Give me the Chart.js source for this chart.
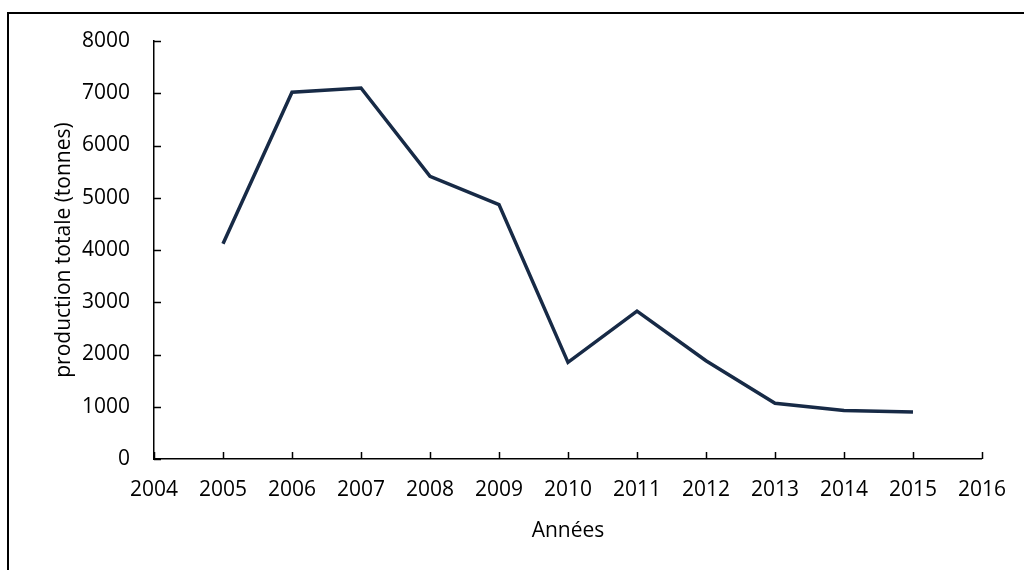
<!DOCTYPE html>
<html>
<head>
<meta charset="utf-8">
<script src="https://cdn.jsdelivr.net/npm/chart.js@4"></script>
<style>
  html,body{margin:0;padding:0;background:#fff;}
  #wrap{position:relative;width:1024px;height:570px;overflow:hidden;}
  #frame{position:absolute;left:7px;top:12px;width:1100px;height:600px;border-top:2px solid #000;border-left:2px solid #000;}
  canvas{position:absolute;left:0;top:0;}
</style>
</head>
<body>
<div id="wrap">
  <div id="frame"></div>
  <canvas id="c" width="1024" height="570"></canvas>
</div>
<script>
// Data
const years = [2005, 2006, 2007, 2008, 2009, 2010, 2011, 2012, 2013, 2014, 2015];
const production = [4120, 7020, 7100, 5410, 4870, 1850, 2830, 1880, 1065, 930, 900];
const xRange = [2004, 2016];
const yRange = [0, 8000];
const yStep = 1000;

const FONT = "'Open Sans', sans-serif";

// inward tick marks, like the original
const innerTicks = {
  id: "innerTicks",
  afterDraw(chart){
    const ctx = chart.ctx, {x, y} = chart.scales, len = 7;
    ctx.save();
    ctx.strokeStyle = "#000"; ctx.lineWidth = 1.5;
    ctx.beginPath();
    x.ticks.forEach(t => {
      const px = Math.round(x.getPixelForValue(t.value)) + 0.5;
      ctx.moveTo(px, y.bottom); ctx.lineTo(px, y.bottom - len);
    });
    y.ticks.forEach(t => {
      const py = Math.round(y.getPixelForValue(t.value)) + 0.5;
      ctx.moveTo(x.left, py); ctx.lineTo(x.left + len, py);
    });
    ctx.stroke();
    ctx.restore();
  }
};

new Chart(document.getElementById("c"), {
  type: "line",
  data: {
    datasets: [{
      data: years.map((yr, i) => ({x: yr, y: production[i]})),
      borderColor: "#172a46",
      borderWidth: 3.5,
      pointRadius: 0,
      tension: 0,
      fill: false
    }]
  },
  options: {
    responsive: false,
    animation: false,
    layout: {padding: {top: 41, right: 33, left: 0, bottom: 0}},
    plugins: {legend: {display: false}, tooltip: {enabled: false}},
    scales: {
      x: {
        type: "linear",
        min: xRange[0], max: xRange[1],
        afterFit: s => { s.height = 111; },
        ticks: {stepSize: 1, color: "#000", padding: 18, font: {family: FONT, size: 21}, maxRotation: 0,
          callback: v => String(v)},
        grid: {display: true, drawOnChartArea: false, drawTicks: false},
        border: {display: true, color: "#000", width: 1.5},
        title: {display: true, text: "Années", color: "#000", font: {family: FONT, size: 21}, padding: {top: 0, bottom: 26}}
      },
      y: {
        min: yRange[0], max: yRange[1],
        afterFit: s => { s.width = 154; },
        ticks: {stepSize: yStep, color: "#000", padding: 24, font: {family: FONT, size: 21},
          callback: v => String(v)},
        grid: {display: true, drawOnChartArea: false, drawTicks: false},
        border: {display: true, color: "#000", width: 1.5},
        title: {display: true, text: "production totale (tonnes)", color: "#000", font: {family: FONT, size: 21}, padding: {top: 51, bottom: 0}}
      }
    }
  },
  plugins: [innerTicks]
});
</script>
</body>
</html>
